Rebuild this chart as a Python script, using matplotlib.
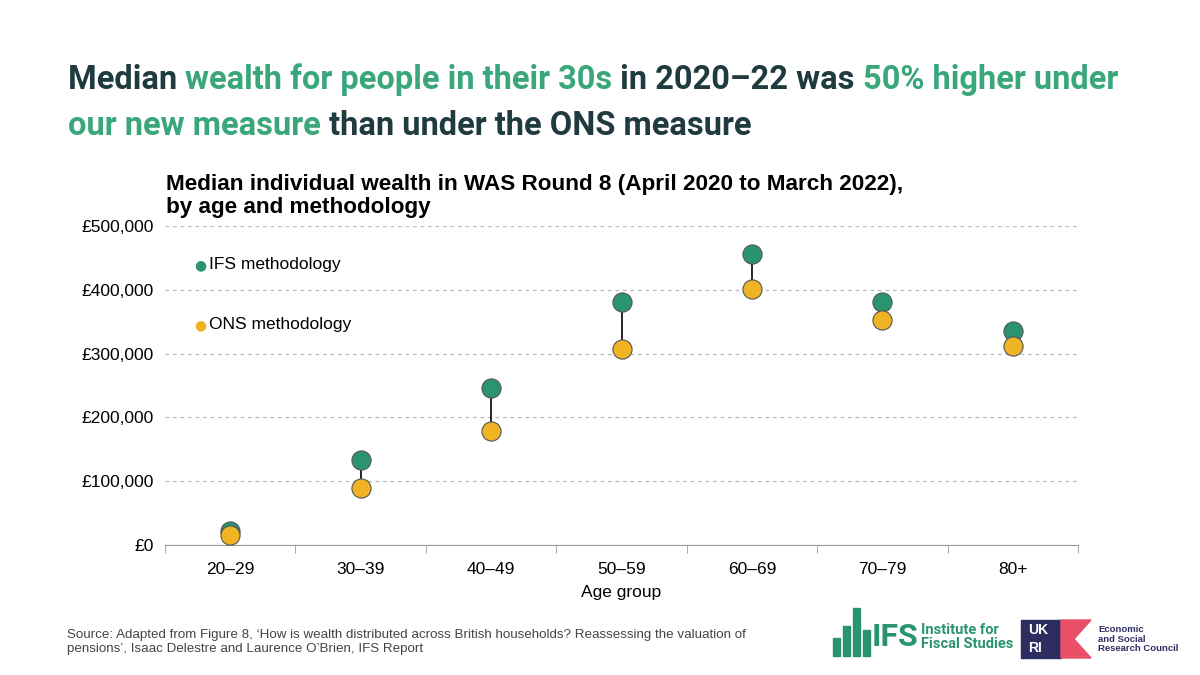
import matplotlib
matplotlib.use("Agg")
import matplotlib.pyplot as plt
from matplotlib.patches import Rectangle, Polygon

plt.rcParams["font.family"] = ["Liberation Sans", "DejaVu Sans"]

ages = ["20–29", "30–39", "40–49", "50–59", "60–69", "70–79", "80+"]
ifs = [22000, 134000, 246000, 381000, 456000, 381000, 336000]
ons = [16000, 89000, 179000, 307000, 401000, 352000, 312000]
yticks = [0, 100000, 200000, 300000, 400000, 500000]

GREEN = "#2a9470"
YELLOW = "#f0b323"
DARK = "#1f3b3f"
HL = "#3aa67c"

fig = plt.figure(figsize=(12, 6.75), dpi=100)
W, H = 1200, 675
ax = fig.add_axes([165/W, 1-545/H, (1078-165)/W, (545-226)/H])
x = list(range(len(ages)))
for i in x:
    ax.plot([i, i], [ons[i], ifs[i]], color="black", lw=1.2, zorder=2)
ax.scatter(x, ifs, s=190, color=GREEN, edgecolor="#555555", lw=0.8, zorder=3)
ax.scatter(x, ons, s=190, color=YELLOW, edgecolor="#555555", lw=0.8, zorder=3)
ax.set_xlim(-0.5, 6.5)
ax.set_ylim(0, 500000)
ax.set_yticks(yticks)
ax.set_yticklabels(["£{:,}".format(v) for v in yticks], fontsize=12.5)
ax.set_xticks(x)
ax.set_xticklabels(ages, fontsize=12.5)
ax.set_xticks([i + 0.5 for i in range(-1, 7)], minor=True)
ax.tick_params(axis="x", which="major", length=0, pad=12)
ax.tick_params(axis="x", which="minor", length=6, color="#999999")
ax.tick_params(axis="y", length=0, pad=8)
ax.grid(axis="y", ls=(0, (3, 3)), color="#bbbbbb", lw=0.9)
ax.set_axisbelow(True)
for s in ["top", "right", "left"]:
    ax.spines[s].set_visible(False)
ax.spines["bottom"].set_color("#999999")
ax.set_xlabel("Age group", fontsize=12.5, labelpad=6)

# legend
fig.text(200/W, 1-265/H, "●", color=GREEN, fontsize=10, ha="center", va="center", family="DejaVu Sans")
fig.text(209/W, 1-265/H, "IFS methodology", fontsize=12.5, va="center")
fig.text(200/W, 1-325/H, "●", color=YELLOW, fontsize=10, ha="center", va="center", family="DejaVu Sans")
fig.text(209/W, 1-325/H, "ONS methodology", fontsize=12.5, va="center")

fig.text(166/W, 1-196/H, "Median individual wealth in WAS Round 8 (April 2020 to March 2022),\nby age and methodology",
         fontsize=16.2, fontweight="bold", va="center", linespacing=1.1)

# title with mixed colours
fig.canvas.draw()
r = fig.canvas.get_renderer()
def line(parts, y):
    xp = 68
    for txt, c in parts:
        t = fig.text(xp/W, 1-y/H, txt, color=c, fontsize=23.5, fontweight="bold",
                     family="Roboto", va="center")
        bb = t.get_window_extent(renderer=r)
        xp += bb.width
line([("Median ", DARK), ("wealth for people in their 30s", HL), (" in 2020–22 was ", DARK),
      ("50% higher under", HL)], 80)
line([("our new measure", HL), (" than under the ONS measure", DARK)], 126)

fig.text(67/W, 1-642/H, "Source: Adapted from Figure 8, ‘How is wealth distributed across British households? Reassessing the valuation of\npensions’, Isaac Delestre and Laurence O’Brien, IFS Report",
         fontsize=9.6, color="#444444", va="center", linespacing=1.3)

# IFS logo
la = fig.add_axes([0, 0, 1, 1], zorder=-1)
la.set_xlim(0, W); la.set_ylim(H, 0); la.axis("off")
for bx, top in [(833, 638), (843, 626), (853, 608), (863, 630)]:
    la.add_patch(Rectangle((bx, top), 7, 656-top, color=GREEN))
fig.text(872/W, 1-637/H, "IFS", fontsize=23, fontweight="bold", color=GREEN, va="center", family="Roboto")
fig.text(921/W, 1-637/H, "Institute for\nFiscal Studies", fontsize=10.5, fontweight="bold", color=GREEN, va="center", family="Roboto", linespacing=1.0)
# UKRI logo
la.add_patch(Rectangle((1021, 620), 40, 38, color="#2e2d62"))
la.add_patch(Polygon([[1061, 620], [1091, 620], [1074, 639], [1091, 658], [1061, 658]], color="#e8506a"))
fig.text(1028/W, 1-630/H, "UK", fontsize=10, fontweight="bold", color="white", va="center")
fig.text(1028/W, 1-648/H, "RI", fontsize=10, fontweight="bold", color="white", va="center")
fig.text(1098/W, 1-639/H, "Economic\nand Social\nResearch Council", fontsize=6.8, fontweight="bold", color="#2e2d62", va="center", linespacing=1.1)

fig.savefig("out.png", dpi=100)
